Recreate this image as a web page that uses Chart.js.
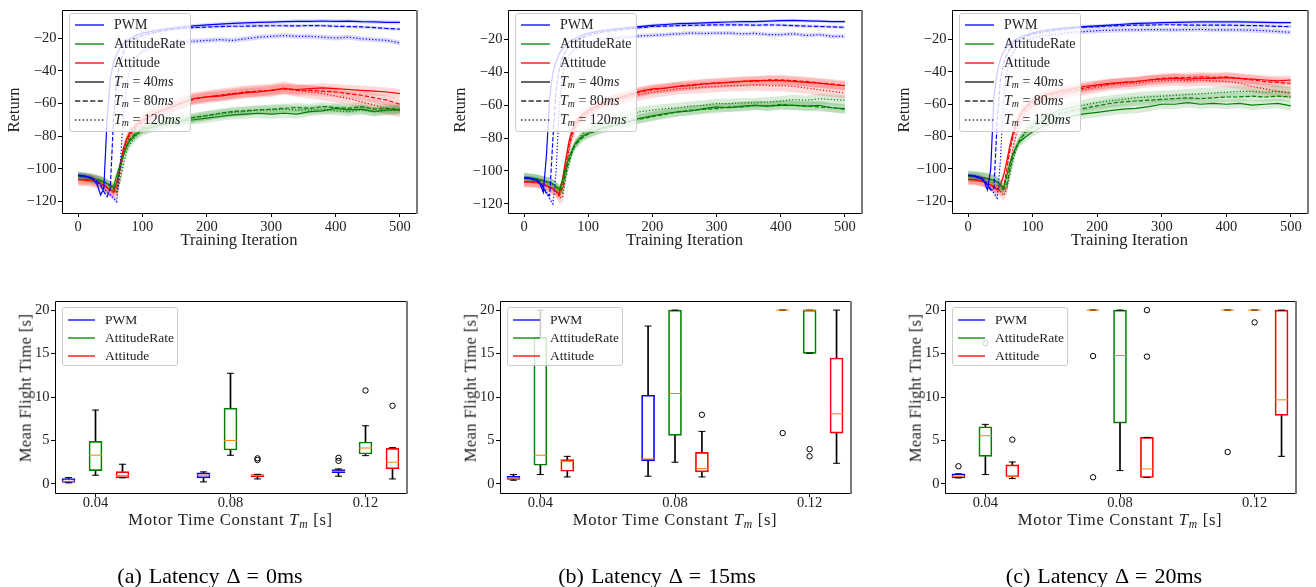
<!DOCTYPE html>
<html>
<head>
<meta charset="utf-8">
<title>Return and mean flight time under latency</title>
<script src="https://cdn.jsdelivr.net/npm/chart.js@4"></script>
<style>
  html, body { margin: 0; padding: 0; background: #fff; }
  #fig { position: relative; width: 1316px; height: 587px; overflow: hidden;
         font-family: "Liberation Serif", "DejaVu Serif", serif; color: #222; }
  #fig canvas { position: absolute; }
  .t { position: absolute; white-space: nowrap; line-height: 1; transform: translate(-50%, -50%); }
  .t.rot { transform: translate(-50%, -50%) rotate(-90deg); }
  .lg { position: absolute; box-sizing: border-box; background: rgba(255,255,255,0.8);
        border: 1px solid #cccccc; border-radius: 3px; }
  .lg svg { position: absolute; overflow: visible; }
  .lg span { position: absolute; white-space: nowrap; line-height: 1; transform: translateY(-50%); color: #222; }
  sub { font-size: 0.7em; vertical-align: -0.25em; line-height: 0; }
  .cap { color: #000; word-spacing: 1.5px; }
</style>
</head>
<body>
<div id="fig"></div>
<script>
// training iterations at which the return curves are sampled
const iters = [0,10,20,25,30,35,40,45,50,55,60,65,70,75,80,90,100,120,140,160,180,200,220,240,260,280,300,320,340,360,380,400,420,440,460,480,500];

// (a) latency 0ms
const a_pwm40  = [-104,-104.5,-105.5,-107,-110,-116,-112,-70,-45,-35,-30,-26,-24,-22,-20.5,-18.5,-17,-15.5,-14.3,-13.3,-12.6,-12,-11.5,-11,-10.8,-10.5,-10.3,-10,-9.8,-9.8,-9.6,-9.8,-9.7,-10,-10.1,-10.4,-10.5];
const a_pwm80  = [-104,-104.5,-105.5,-106.5,-108,-110,-114,-117,-112,-70,-45,-35,-29,-25,-23,-20,-18.5,-16.5,-15,-14.2,-13.6,-13.3,-13,-12.8,-12.8,-12.6,-12.5,-12.5,-12.6,-12.4,-12.5,-12.8,-13,-13.2,-13.6,-14.2,-14.6];
const a_pwm120 = [-104,-104.5,-105.5,-106.5,-108,-110,-112,-114,-116,-118,-120,-100,-70,-50,-40,-32,-28,-25,-23.5,-22.5,-22,-21.5,-21,-21.5,-20.5,-19.5,-19,-18.5,-19,-19,-19.5,-20,-19.5,-20.5,-21,-21.5,-23];
const a_rate40  = [-104.5,-105,-106,-106.5,-107,-107.5,-108,-109,-110,-111,-104,-98,-92,-87,-83,-79,-76,-74,-72,-71,-70,-69,-68,-67,-66.5,-66,-66.5,-66,-66.5,-65,-64.5,-63,-64,-63.5,-65,-64,-64];
const a_rate80  = [-104.5,-105,-105.5,-106,-106.5,-107,-108,-109,-110.5,-112,-110,-100,-92,-86,-82,-78,-75,-73,-71,-70,-68.5,-67.5,-66,-65,-64.5,-64,-63.5,-63,-62.5,-63,-62,-62.5,-63,-62,-63.5,-63,-63.5];
const a_rate120 = [-104.5,-105,-105.5,-106,-106.5,-107,-108,-109,-110.5,-112,-114,-108,-98,-90,-85,-80,-77,-74,-72,-70.5,-69,-67.5,-66.5,-65.5,-65,-64,-64,-63.5,-64,-64,-63.5,-64.5,-65,-64,-65,-64.5,-64];
const a_att40  = [-106.5,-106.7,-107,-107.5,-108,-109,-110,-111.5,-113,-114,-108,-98,-88,-82,-78,-73,-70,-66,-63,-60,-57,-56,-55.5,-54.5,-53.5,-53,-52,-51,-51.5,-51,-50.5,-51,-51.5,-52,-52.5,-53,-54];
const a_att80  = [-106.5,-106.7,-107,-107.5,-108,-109,-110,-111.5,-113,-114.5,-112,-100,-90,-83,-79,-74,-71,-66,-63,-60,-57.5,-56,-55,-54,-53,-52.5,-52,-51,-52,-52,-52.5,-53,-54,-55,-56.5,-58,-60.5];
const a_att120 = [-106.5,-106.7,-107,-107.5,-108,-109,-110,-111.5,-113,-114,-114.5,-104,-92,-85,-80,-75,-71,-66,-62.5,-59.5,-57,-56,-55,-54,-53,-52.5,-52,-50.5,-52,-53,-54,-55.5,-57,-59,-61,-63,-64.5];
const a_spread = [1.2,1,1.5, 2.8,2.8,2.8, 2.8,3.2,4];

// (b) latency 15ms
const b_pwm40  = [-104,-104.5,-106,-108,-113,-90,-55,-40,-33,-28.5,-25.5,-23.5,-21.5,-20.3,-19.3,-17.5,-16.2,-14.6,-13.6,-12.8,-12.1,-11.3,-10.8,-10.3,-10.1,-9.8,-9.5,-9.3,-9.1,-9,-8.8,-8.5,-8.3,-8.6,-8.8,-9,-9];
const b_pwm80  = [-104,-104.5,-105.5,-107,-110,-114,-115,-80,-50,-38,-31,-27,-24,-22,-21,-19,-17.5,-15.5,-14.5,-13.5,-12.8,-12,-11.8,-11.5,-11.3,-11.2,-11,-11,-11,-11.2,-11,-11.2,-11.5,-11.8,-12,-12.3,-12.5];
const b_pwm120 = [-104,-104.5,-105.5,-107,-110,-113,-117,-120,-100,-60,-42,-34,-30,-27,-25.5,-23,-21.5,-20,-19,-18.5,-17.8,-17.5,-17,-16.5,-16,-16.3,-16,-16,-16.5,-16.2,-17,-17,-16.5,-17.5,-17,-18,-18];
const b_rate40  = [-104,-104.5,-105,-105.5,-106,-106.5,-107,-108,-109.5,-111,-106,-98,-92,-87,-83,-79,-77,-74,-72,-70,-68,-66.5,-65,-64,-63.5,-62,-61,-61.5,-60.5,-60,-60.5,-60,-60,-60.5,-60,-61.5,-62];
const b_rate80  = [-104,-104.5,-105,-105.5,-106,-106.5,-107,-108,-109.5,-111.5,-110,-101,-94,-88,-84,-80,-77.5,-74.5,-72.5,-70.5,-68.5,-67,-65.5,-64,-63,-62.5,-62,-61,-61,-60,-60.5,-59.5,-60,-60.5,-61,-61.5,-62.5];
const b_rate120 = [-104,-104.5,-105,-105.5,-106,-106.5,-107,-108,-109.5,-112,-113,-104,-96,-89,-84,-78,-75,-71,-68,-66,-64,-63,-62,-61.5,-60.5,-60,-59,-59,-58.5,-58.5,-58,-57.5,-56.5,-57,-56,-56.5,-57];
const b_att40  = [-106.5,-106.7,-107,-107.5,-108,-109,-110,-111,-112.5,-114,-105,-93,-82,-75,-70,-66,-63,-59,-56,-54,-51.5,-50,-49.5,-48.5,-48,-47,-46.5,-46,-45.5,-45,-45,-45,-45.5,-46,-46.5,-47.5,-48];
const b_att80  = [-106.5,-106.7,-107,-107.5,-108,-109,-110,-111,-112.5,-115,-110,-97,-85,-77,-72,-67,-64,-59.5,-56.5,-54.5,-52,-50.5,-49.5,-48.5,-47.5,-47,-46.5,-46,-45.5,-45.5,-44.5,-44.5,-45,-45.5,-46.5,-47,-48];
const b_att120 = [-106.5,-106.7,-107,-107.5,-108,-109,-110,-111,-113,-116,-116.5,-102,-88,-79,-74,-68,-65,-60.5,-57.5,-55.5,-53.5,-52,-51,-50,-49.5,-49,-48.5,-48,-48,-47.5,-48,-48,-48.5,-49.5,-50.5,-51.5,-52.5];
const b_spread = [1,1,1.3, 2.8,2.8,3, 2.8,3,3.5];

// (c) latency 20ms
const c_pwm40  = [-104,-104.5,-106,-108,-113,-100,-55,-40,-32,-27.5,-24.5,-22.5,-21,-19.8,-18.8,-17.2,-15.8,-14.2,-13.2,-12.6,-12,-11.5,-11,-10.5,-10,-9.8,-9.5,-9.3,-9.2,-9,-9,-9,-9,-9.2,-9.3,-9.5,-9.5];
const c_pwm80  = [-104,-104.5,-105.5,-107,-110,-113,-112,-70,-45,-35,-29,-25.5,-23,-21,-20,-18,-16.5,-15,-14,-13,-12.3,-12,-11.5,-11.3,-11,-11,-10.8,-10.8,-11,-11,-11,-11,-11.2,-11.3,-11.5,-11.8,-12];
const c_pwm120 = [-104,-104.5,-105.5,-107,-109,-112,-115,-118,-95,-55,-40,-32,-28,-25,-23,-20.5,-19,-17.5,-16.5,-15.5,-15,-14.5,-14.2,-14,-14,-13.8,-13.8,-14,-13.8,-13.7,-14,-14,-14,-14.2,-14.5,-15,-15.5];
const c_rate40  = [-104.5,-104.8,-105.3,-105.5,-106,-106.5,-107,-108,-110,-112,-104,-96,-90,-86,-83,-80,-77,-73,-70,-67.5,-66,-65,-64,-63,-62.5,-61.5,-60,-60,-59,-60,-59.5,-60,-59.5,-60.5,-60,-59.5,-61];
const c_rate80  = [-104.5,-104.8,-105.3,-105.5,-106,-106.5,-107,-108,-110,-112.5,-109,-100,-92,-86,-82,-77,-74,-69,-66,-64,-62.5,-61,-59.5,-58.5,-58,-57.5,-57,-56.5,-56,-56.5,-56,-55.5,-55.5,-55,-55.5,-55,-55.5];
const c_rate120 = [-104.5,-104.8,-105.3,-105.5,-106,-106.5,-107,-108,-110,-113,-112,-103,-94,-87,-82,-76,-72,-67,-64,-62,-60.5,-59,-58,-57,-56,-55.5,-55,-54.5,-54,-53.5,-53,-52.5,-52,-52,-52.5,-52,-53];
const c_att40  = [-106.5,-106.7,-107.5,-108,-109,-110,-111.5,-113,-110,-104,-95,-85,-77,-71,-66,-61,-57.5,-54,-52,-50.5,-49,-48,-47,-46.5,-46,-45,-44.5,-44,-44.5,-44,-44,-43.5,-44,-44.5,-45,-45.5,-45];
const c_att80  = [-106.5,-106.7,-107.5,-108,-109,-110,-111,-112,-114,-112,-100,-88,-79,-73,-68,-62,-59,-55,-53,-51.5,-50,-48.5,-47.5,-46.5,-46,-45,-44,-43.5,-43.5,-43,-43.5,-43,-44,-45,-46,-46.5,-47];
const c_att120 = [-106.5,-106.7,-107.5,-108,-109,-110,-111,-112,-114,-116.5,-112,-98,-86,-78,-72,-65,-61,-57,-54.5,-52.5,-51,-49.5,-48,-47.5,-47,-46,-45.5,-45,-45.5,-45,-45.5,-46,-47,-49,-50.5,-52,-53];
const c_spread = [1,1,1.5, 3,3,3.5, 3,3,3.5];

// box plot stats per motor time constant: [whisker low, q1, median, q3, whisker high]
const tmValues = [0.04, 0.08, 0.12];
const a_boxPWM  = [[0.12,0.18,0.3,0.62,0.72], [0.23,0.7,1.0,1.26,1.38], [0.88,1.3,1.45,1.64,1.72]];
const a_boxRate = [[1.0,1.53,3.3,4.9,8.5], [3.29,3.9,5.0,8.72,12.73], [3.25,3.44,4.13,4.82,6.69]];
const a_boxAtt  = [[0.7,0.7,0.96,1.41,2.26], [0.57,0.8,0.96,1.07,1.1], [0.57,1.72,2.49,4.09,4.17]];
const a_outPWM  = [[], [], [2.65,3.0]];
const a_outRate = [[], [], [10.75]];
const a_outAtt  = [[], [2.75,2.94], [8.99]];

const b_boxPWM  = [[0.42,0.5,0.65,0.88,1.07], [0.88,2.68,2.87,10.2,18.16], [20,20,20,20,20]];
const b_boxRate = [[1.07,2.14,3.29,16.86,20], [2.49,5.58,10.4,20,20], [15.03,15.03,20,20,20]];
const b_boxAtt  = [[0.8,1.45,2.6,2.79,3.17], [0.8,1.38,1.76,3.63,6.04], [2.37,5.85,8.07,14.49,20]];
const b_outPWM  = [[], [], [5.85]];
const b_outRate = [[], [], [3.17,4.0]];
const b_outAtt  = [[], [7.95], []];

const c_boxPWM  = [[0.69,0.69,0.84,1.15,1.15], [20,20,20,20,20], [20,20,20,20,20]];
const c_boxRate = [[1.07,3.17,5.54,6.58,6.85], [1.53,7.0,14.76,20,20], [20,20,20,20,20]];
const c_boxAtt  = [[0.61,0.8,0.88,2.18,2.52], [0.73,0.73,1.72,5.35,5.35], [3.17,7.88,9.67,20,20]];
const c_outPWM  = [[2.03], [0.76,14.72], [3.67]];
const c_outRate = [[16.2], [], [18.59]];
const c_outAtt  = [[5.09], [14.65,20], []];

// tick labels
const iterTicks = [0, 100, 200, 300, 400, 500];
const returnTicks = [-120, -100, -80, -60, -40, -20];
const flightTicks = [0, 5, 10, 15, 20];

const seriesNames = ['PWM', 'AttitudeRate', 'Attitude'];
const tmLabels = ['40', '80', '120'];
const captions = ['(a) Latency Δ = 0ms', '(b) Latency Δ = 15ms', '(c) Latency Δ = 20ms'];

const returnSeries = [
  [[a_pwm40, a_pwm80, a_pwm120], [a_rate40, a_rate80, a_rate120], [a_att40, a_att80, a_att120]],
  [[b_pwm40, b_pwm80, b_pwm120], [b_rate40, b_rate80, b_rate120], [b_att40, b_att80, b_att120]],
  [[c_pwm40, c_pwm80, c_pwm120], [c_rate40, c_rate80, c_rate120], [c_att40, c_att80, c_att120]]
];
const returnSpread = [a_spread, b_spread, c_spread];
const boxStats = [[a_boxPWM, a_boxRate, a_boxAtt], [b_boxPWM, b_boxRate, b_boxAtt], [c_boxPWM, c_boxRate, c_boxAtt]];
const boxOutliers = [[a_outPWM, a_outRate, a_outAtt], [b_outPWM, b_outRate, b_outAtt], [c_outPWM, c_outRate, c_outAtt]];

// ---- styles & layout ----
const COLORS = ['#0000ff', '#008000', '#ff0000'];
const BANDS = ['rgba(0,0,255,0.15)', 'rgba(0,128,0,0.15)', 'rgba(255,0,0,0.15)'];
const DASHES = [[], [4.4, 1.9], [1.2, 2]];
const MEDIAN = '#ff7f0e';
const FONT = 'Liberation Serif';
const boxShift = [-0.008, 0, 0.008];

const TOP = { ct: 0, ch: 260, pt: 6, pb: 213 };
const BOT = { ct: 290, ch: 250, pt: 301, pb: 493 };
const topLayout = [
  { cl: 0,   cw: 440, pl: 62,  pr: 416,  ymin: -127,   ymax: -3 },
  { cl: 440, cw: 440, pl: 508, pr: 861,  ymin: -125.6, ymax: -2.1 },
  { cl: 880, cw: 436, pl: 952, pr: 1307, ymin: -127.3, ymax: -1.8 }
];
const botLayout = [
  { cl: 0,   cw: 440, pl: 55,  pr: 406 },
  { cl: 440, cw: 440, pl: 500, pr: 850 },
  { cl: 880, cw: 436, pl: 945, pr: 1295 }
];
const captionX = [210, 657, 1104];

const fig = document.getElementById('fig');
const minus = v => (v < 0 ? '\u2212' : '') + Math.abs(v);

const framePlugin = {
  id: 'frame',
  afterDraw(chart) {
    const { ctx, chartArea: a } = chart;
    const l = Math.round(a.left) + 0.5, r = Math.round(a.right) + 0.5;
    const t = Math.round(a.top) + 0.5, b = Math.round(a.bottom) + 0.5;
    ctx.save();
    ctx.strokeStyle = '#000';
    ctx.lineWidth = 1;
    ctx.beginPath();
    ctx.moveTo(r, t); ctx.lineTo(l, t); ctx.lineTo(l, b); ctx.lineTo(r, b);
    ctx.stroke();
    ctx.strokeStyle = '#7a7a7a';
    ctx.lineWidth = 2;
    ctx.beginPath();
    ctx.moveTo(r + 0.5, t - 0.5); ctx.lineTo(r + 0.5, b + 0.5);
    ctx.stroke();
    ctx.restore();
  }
};

function axis(min, max, ticks, fmt, size, pad) {
  return {
    type: 'linear', min: min, max: max, offset: false,
    afterBuildTicks: s => { s.ticks = ticks.map(v => ({ value: v })); },
    afterFit: s => { if (s.isHorizontal()) s.height = size; else s.width = size; },
    grid: { display: true, drawOnChartArea: false, drawTicks: true, tickLength: 4, color: '#000', lineWidth: 1, offset: false },
    border: { display: false },
    ticks: { callback: fmt, font: { family: FONT, size: 14.5 }, color: '#222', padding: pad, maxRotation: 0, autoSkip: false }
  };
}

function makeCanvas(L, row) {
  const c = document.createElement('canvas');
  c.width = L.cw; c.height = row.ch;
  Object.assign(c.style, { left: L.cl + 'px', top: row.ct + 'px', width: L.cw + 'px', height: row.ch + 'px' });
  fig.appendChild(c);
  return c;
}

function baseOptions(L, row) {
  return {
    responsive: false, animation: false, events: [], devicePixelRatio: 1,
    layout: { autoPadding: false, padding: { left: 0, right: L.cl + L.cw - L.pr, top: row.pt - row.ct, bottom: 0 } },
    plugins: { legend: { display: false }, tooltip: { enabled: false } }
  };
}

function text(html, x, y, size, opt) {
  opt = opt || {};
  const d = document.createElement('div');
  d.className = 't' + (opt.rot ? ' rot' : '') + (opt.cls ? ' ' + opt.cls : '');
  d.style.left = x + 'px'; d.style.top = y + 'px'; d.style.fontSize = size + 'px';
  if (opt.ls) d.style.letterSpacing = opt.ls + 'px';
  d.innerHTML = html;
  fig.appendChild(d);
}

function legend(x, y, w, h, rows, o) {
  const box = document.createElement('div');
  box.className = 'lg';
  Object.assign(box.style, { left: x + 'px', top: y + 'px', width: w + 'px', height: h + 'px' });
  rows.forEach((r, i) => {
    const cy = o.first + i * o.step;
    const dash = r.dash.length ? r.dash.join(' ') : 'none';
    box.insertAdjacentHTML('beforeend',
      `<svg width="${o.sw}" height="6" style="left:${o.sx}px;top:${cy - 3}px">` +
      `<line x1="0" y1="3" x2="${o.sw}" y2="3" stroke="${r.color}" stroke-width="${r.lw}" stroke-dasharray="${dash}"/></svg>` +
      `<span style="left:${o.tx}px;top:${cy}px;font-size:${o.fs}px">${r.label}</span>`);
  });
  fig.appendChild(box);
}

function lineSets(series, spread) {
  const ds = [];
  series.forEach((grp, c) => grp.forEach((vals, k) => {
    const sd = spread[c * 3 + k];
    ds.push({ data: vals.map((v, i) => ({ x: iters[i], y: v + sd })), borderColor: 'rgba(0,0,0,0)', borderWidth: 0, pointRadius: 0, fill: false, order: 1 });
    ds.push({ data: vals.map((v, i) => ({ x: iters[i], y: v - sd })), borderColor: 'rgba(0,0,0,0)', borderWidth: 0, pointRadius: 0, fill: '-1', backgroundColor: BANDS[c], order: 1 });
  }));
  series.forEach((grp, c) => grp.forEach((vals, k) => {
    ds.push({ data: vals.map((v, i) => ({ x: iters[i], y: v })), borderColor: COLORS[c], borderWidth: 1.2, borderDash: DASHES[k], pointRadius: 0, fill: false, tension: 0, order: 0 });
  }));
  return ds;
}

function boxSets(stats, outs) {
  const ds = [];
  stats.forEach((grp, c) => {
    const xs = tmValues.map(t => t + boxShift[c]);
    ds.push({ type: 'bar', data: grp.map((s, k) => ({ x: xs[k], y: [s[1], s[3]] })), borderColor: COLORS[c], borderWidth: 1,
              backgroundColor: 'rgba(0,0,0,0)', borderSkipped: false, barThickness: 13, grouped: false, order: 2 });
    ds.push({ type: 'bar', data: grp.flatMap((s, k) => [{ x: xs[k], y: [s[0], s[1]] }, { x: xs[k], y: [s[3], s[4]] }]),
              backgroundColor: '#000', borderWidth: 0, barThickness: 1, grouped: false, order: 3 });
    ds.push({ type: 'scatter', data: grp.flatMap((s, k) => [{ x: xs[k], y: s[0] }, { x: xs[k], y: s[4] }]),
              pointStyle: 'line', pointRadius: 3.5, pointBorderColor: '#000', pointBorderWidth: 1, order: 1 });
    ds.push({ type: 'scatter', data: grp.map((s, k) => ({ x: xs[k], y: s[2] })),
              pointStyle: 'line', pointRadius: 6.5, pointBorderColor: MEDIAN, pointBorderWidth: 1, order: 0 });
    ds.push({ type: 'scatter', data: outs[c].flatMap((o, k) => o.map(v => ({ x: xs[k], y: v }))),
              pointStyle: 'circle', pointRadius: 2.7, pointBorderColor: '#000', pointBackgroundColor: 'rgba(0,0,0,0)', pointBorderWidth: 1, order: 0 });
  });
  return ds;
}

const topRows = seriesNames.map((n, c) => ({ label: n, color: COLORS[c], dash: [], lw: 1.3 }))
  .concat(tmLabels.map((m, k) => ({ label: `<i>T</i><sub><i>m</i></sub> = ${m}<i>ms</i>`, color: '#333', dash: DASHES[k].map(d => d * 1.2), lw: 1.5 })));
const botRows = seriesNames.map((n, c) => ({ label: n, color: COLORS[c], dash: [], lw: 1.3 }));

topLayout.forEach((L, p) => {
  const opts = baseOptions(L, TOP);
  opts.scales = {
    x: axis(-25, 525, iterTicks, v => String(v), TOP.ct + TOP.ch - TOP.pb, 1.5),
    y: axis(L.ymin, L.ymax, returnTicks, minus, L.pl - L.cl, 1.5)
  };
  new Chart(makeCanvas(L, TOP), { type: 'line', data: { datasets: lineSets(returnSeries[p], returnSpread[p]) }, options: opts, plugins: [framePlugin] });
  text('Return', L.pl - 48, 110, 16.6, { rot: true });
  text('Training Iteration', (L.pl + L.pr) / 2, 240, 16.6);
  legend(L.pl + 7, 13, 122, 119, topRows, { first: 11, step: 18.9, sx: 5, sw: 29, tx: 44, fs: 14 });
});

botLayout.forEach((L, p) => {
  const opts = baseOptions(L, BOT);
  opts.scales = {
    x: axis(0.028, 0.132, tmValues, v => v.toFixed(2), BOT.ct + BOT.ch - BOT.pb, -2.5),
    y: axis(-1.05, 21.05, flightTicks, v => String(v), L.pl - L.cl, 1.5)
  };
  new Chart(makeCanvas(L, BOT), { type: 'bar', data: { datasets: boxSets(boxStats[p], boxOutliers[p]) }, options: opts, plugins: [framePlugin] });
  text('Mean Flight Time [s]', L.pl - 29.5, 388, 16.6, { rot: true, ls: 0.35 });
  text('Motor Time Constant <i>T</i><sub><i>m</i></sub> [s]', (L.pl + L.pr) / 2, 520, 16.6, { ls: 0.7 });
  legend(L.pl + 7, 307, 116, 59, botRows, { first: 11.7, step: 18, sx: 5, sw: 27, tx: 42, fs: 13.5 });
  text(captions[p], captionX[p], 576, 22, { cls: 'cap' });
});
</script>
</body>
</html>
